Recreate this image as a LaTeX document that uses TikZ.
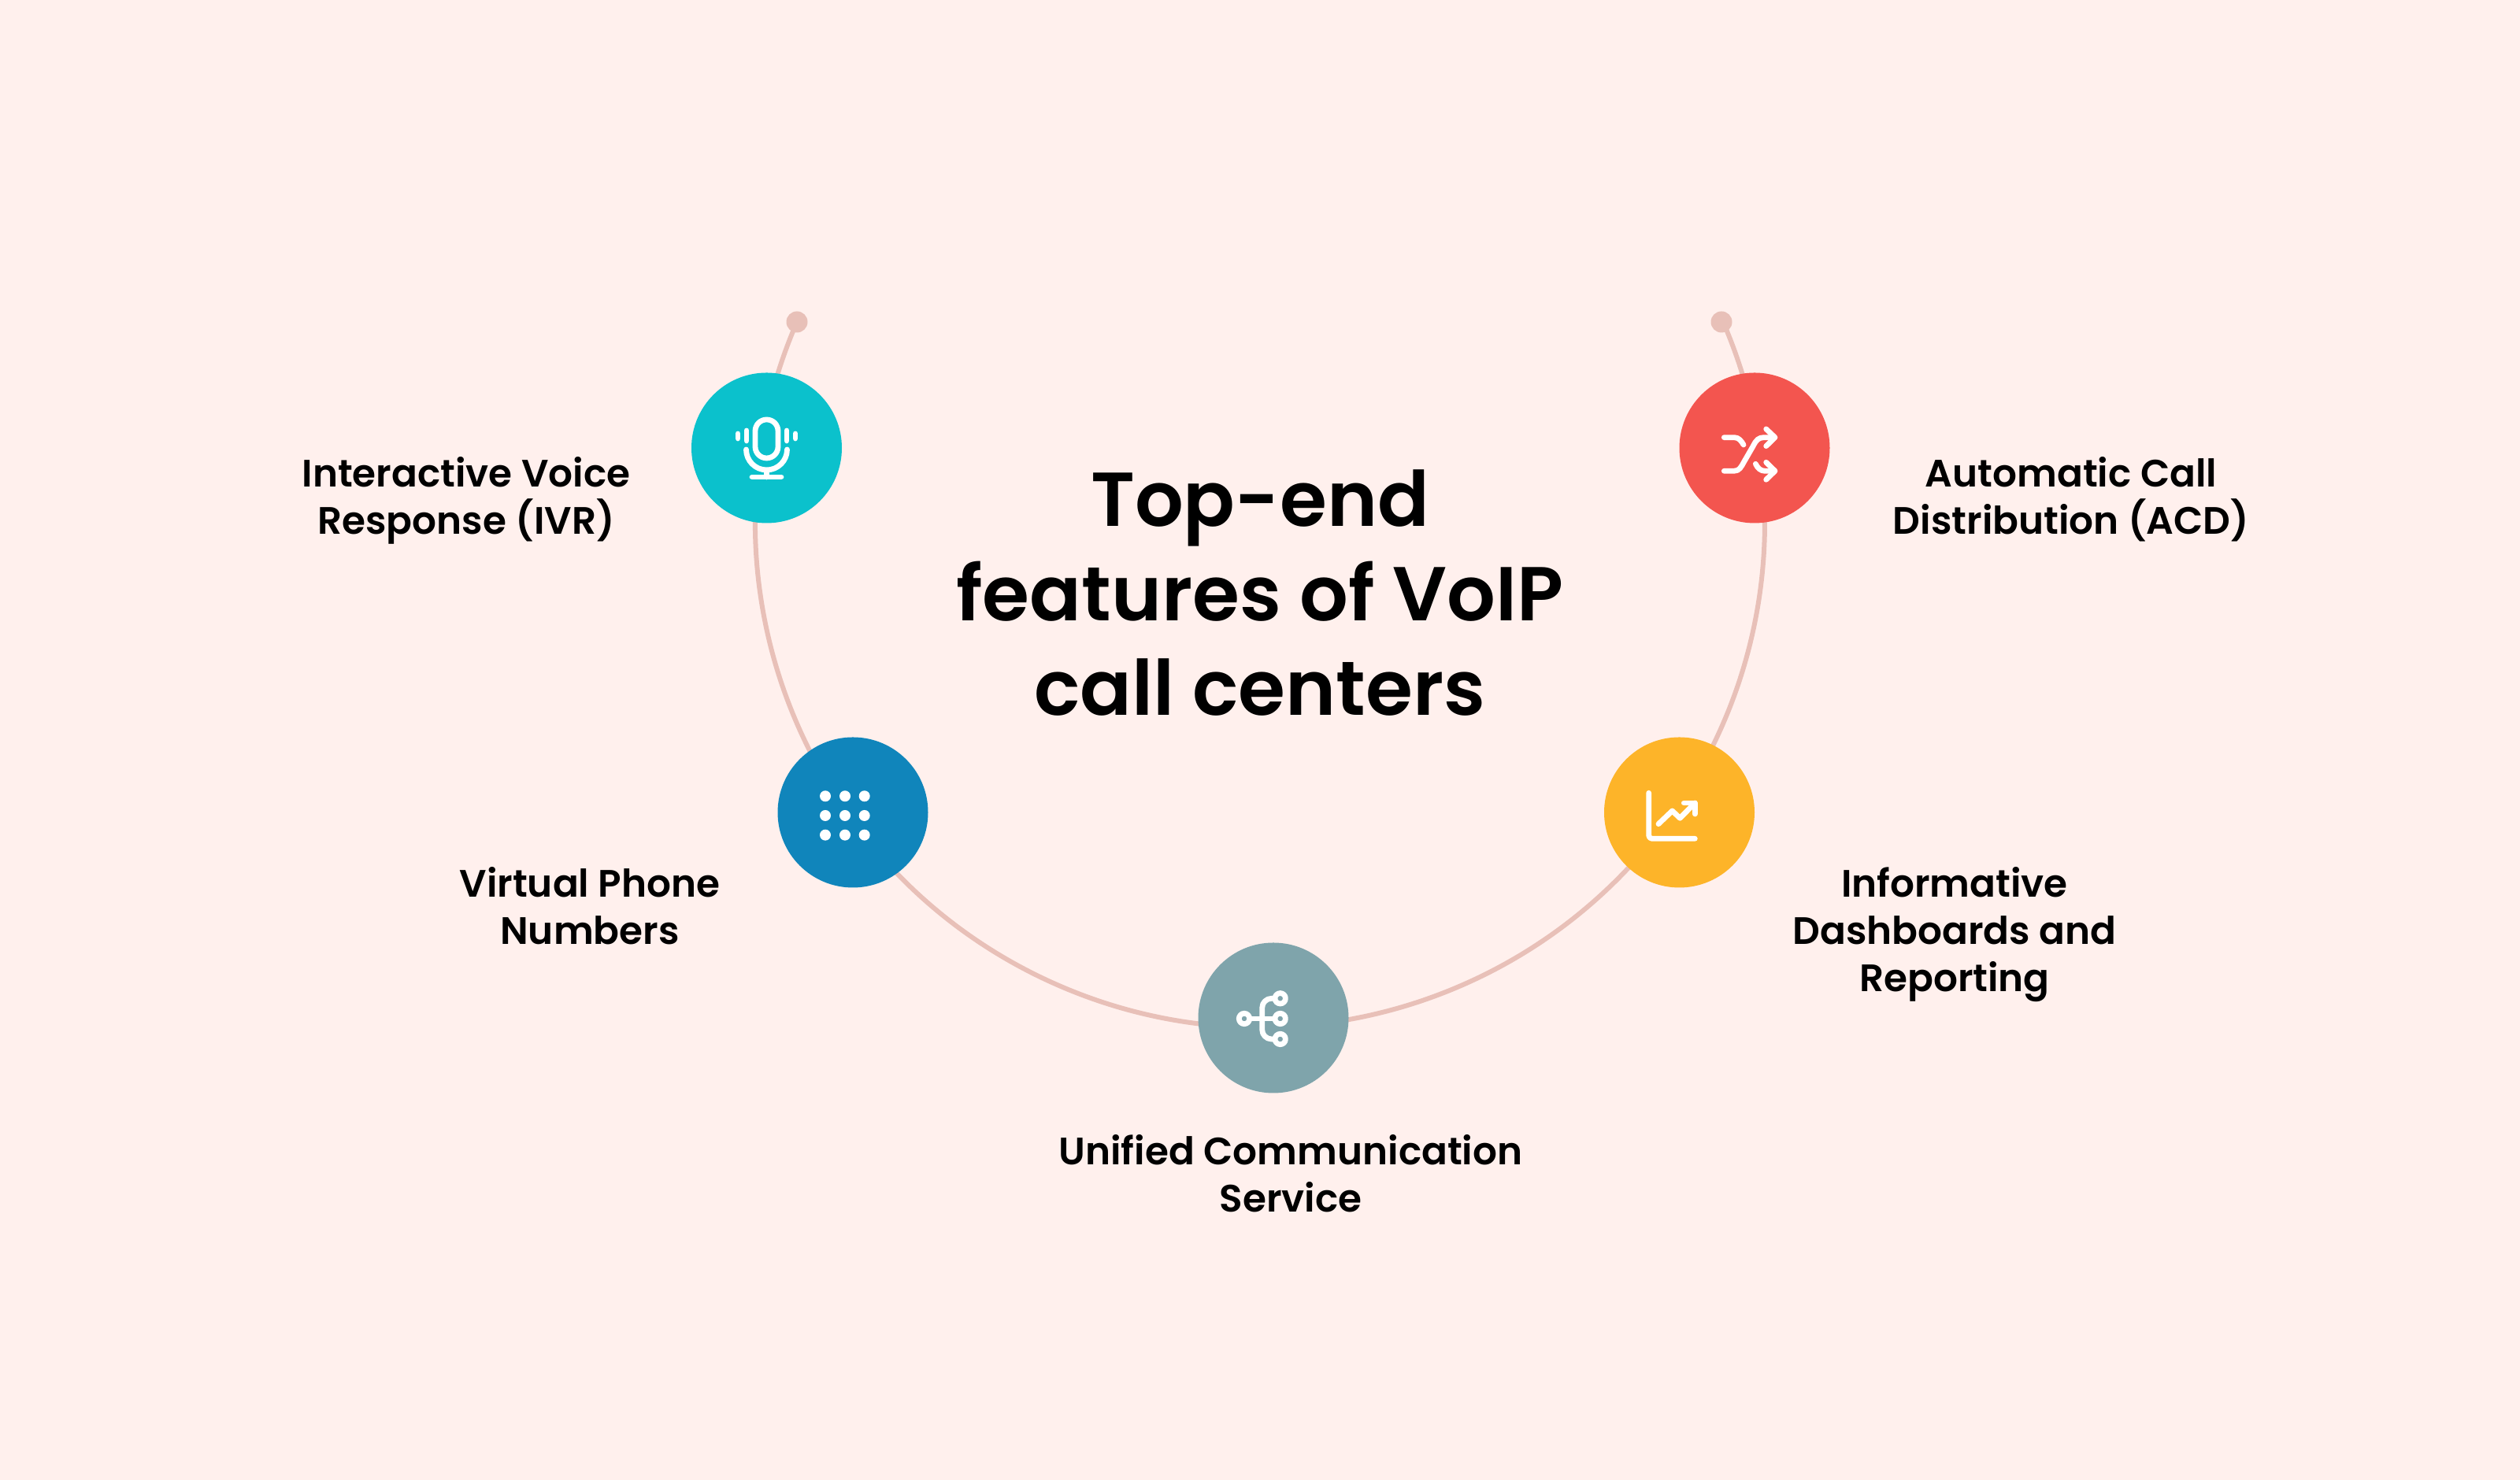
\documentclass[tikz,border=0pt]{standalone}
\usepackage{fontspec}
\setmainfont{Poppins}
\newfontfamily\titlefont{Poppins SemiBold}
\definecolor{pagebg}{HTML}{FFF0ED}
\definecolor{ringcol}{HTML}{E8C0B8}
\definecolor{tealcol}{HTML}{0BC1CC}
\definecolor{redcol}{HTML}{F3554F}
\definecolor{bluecol}{HTML}{1085BB}
\definecolor{yellowcol}{HTML}{FDB429}
\definecolor{slatecol}{HTML}{7FA4AB}
\tikzset{
  badge/.style={circle, inner sep=0pt, minimum size=1.91cm},
  enddot/.style={circle, inner sep=0pt, minimum size=0.27cm, fill=ringcol},
  ringline/.style={ringcol, line width=0.06cm},
  iconline/.style={white, line width=0.068cm, line cap=round, line join=round},
  featlabel/.style={align=center, inner sep=0pt, font=\titlefont\fontsize{13.8}{17}\selectfont},
  titlelabel/.style={align=center, inner sep=0pt, font=\titlefont\fontsize{27.6}{34.2}\selectfont}
}
\begin{document}
\begin{tikzpicture}
    % Fond
    \fill[pagebg] (0,0) rectangle (32,18.8);

    % Anneau
    \node[enddot] (dotl) at (10.12,14.71) {};
    \node[enddot] (dotr) at (21.86,14.71) {};
    \draw[ringline] (dotl.center) arc[start angle=156.55, end angle=383.45, radius=6.41];

    % Pastilles
    \node[badge, fill=tealcol] (ivr) at (9.735,13.11) {};
    \node[badge, fill=redcol] (acd) at (22.28,13.11) {};
    \node[badge, fill=bluecol] (phone) at (10.83,8.48) {};
    \node[badge, fill=yellowcol] (dash) at (21.325,8.48) {};
    \node[badge, fill=slatecol] (ucs) at (16.17,5.87) {};

    % Titre
    \node[titlelabel] (title) at (16,11.27) {Top-end\\features of VoIP\\call centers};

    % Etiquettes
    \node[featlabel] (ivrlabel) at (5.92,12.44) {Interactive Voice\\Response (IVR)};
    \node[featlabel] (acdlabel) at (26.3,12.46) {Automatic Call\\Distribution (ACD)};
    \node[featlabel] (phonelabel) at (7.49,7.29) {Virtual Phone\\Numbers};
    \node[featlabel] (dashlabel) at (24.82,6.93) {Informative\\Dashboards and\\Reporting};
    \node[featlabel] (ucslabel) at (16.39,3.89) {Unified Communication\\Service};

    % Micro
    \begin{scope}[shift={(ivr.center)}]
        \draw[iconline, rounded corners=0.145cm] (-0.145,-0.13) rectangle (0.145,0.36);
        \foreach \s in {-1,1} {
            \draw[iconline] (\s*0.255,0.22) -- (\s*0.255,0.09);
            \draw[iconline] (\s*0.365,0.18) -- (\s*0.365,0.12);
        }
        \draw[iconline] (-0.26,-0.02) arc[start angle=180, end angle=360, radius=0.26];
        \draw[iconline] (0,-0.28) -- (0,-0.37);
        \draw[iconline] (-0.185,-0.37) -- (0.185,-0.37);
    \end{scope}

    % Fleches croisees
    \begin{scope}[shift={(acd.center)}]
        \draw[iconline] (-0.387,0.133) -- (-0.26,0.133) .. controls (-0.20,0.133) and (-0.17,0.09) .. (-0.14,0.04);
        \draw[iconline] (-0.387,-0.293) -- (-0.26,-0.293) .. controls (-0.19,-0.293) and (-0.17,-0.24) .. (-0.13,-0.17) -- (-0.02,0.02) .. controls (0.02,0.10) and (0.05,0.133) .. (0.12,0.133) -- (0.25,0.133);
        \draw[iconline] (0.013,-0.203) .. controls (0.04,-0.26) and (0.08,-0.293) .. (0.13,-0.293) -- (0.25,-0.293);
        \draw[iconline] (0.147,0.24) -- (0.26,0.133) -- (0.147,0.023);
        \draw[iconline] (0.147,-0.183) -- (0.26,-0.293) -- (0.147,-0.403);
    \end{scope}

    % Clavier
    \begin{scope}[shift={(phone.center)}]
        \foreach \x in {-0.35,-0.10,0.147}
            \foreach \y in {0.207,-0.04,-0.287}
                \fill[white] (\x,\y) circle (0.07);
    \end{scope}

    % Graphique
    \begin{scope}[shift={(dash.center)}]
        \draw[iconline, rounded corners=0.04cm] (-0.388,0.247) -- (-0.388,-0.333) -- (0.198,-0.333);
        \draw[iconline] (-0.265,-0.147) -- (-0.09,0.02) -- (0.008,-0.073) -- (0.198,0.12);
        \draw[iconline] (0.058,0.12) -- (0.198,0.12) -- (0.198,-0.02);
    \end{scope}

    % Reseau
    \begin{scope}[shift={(ucs.center)}]
        \draw[iconline, rounded corners=0.12cm] (0.087,0.247) -- (-0.143,0.247) -- (-0.143,-0.27) -- (0.087,-0.27);
        \draw[iconline] (-0.37,-0.01) -- (0.087,-0.01);
        \foreach \x/\y in {-0.37/-0.01, 0.087/0.247, 0.087/-0.01, 0.087/-0.27}
            \draw[iconline, fill=slatecol] (\x,\y) circle (0.067);
    \end{scope}
\end{tikzpicture}
\end{document}
